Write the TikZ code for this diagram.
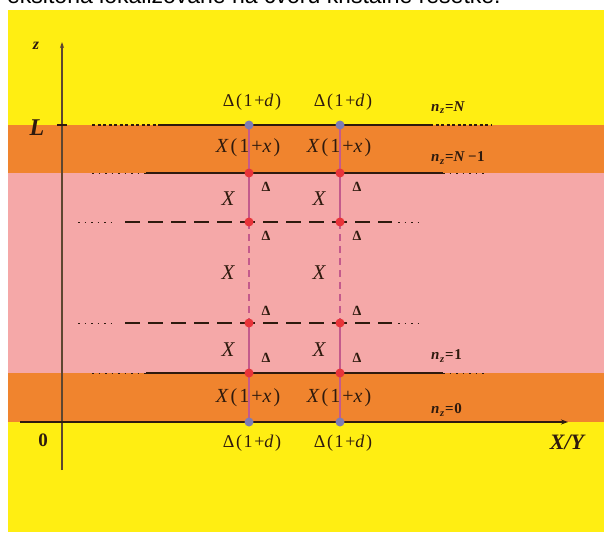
\documentclass[tikz,border=0pt]{standalone}
\usepackage{fontspec}
\setmainfont{Liberation Serif}
\newfontfamily\titlefont{Liberation Sans}
\usetikzlibrary{arrows.meta}
\definecolor{bgyellow}{HTML}{FFEE12}
\definecolor{bandorange}{HTML}{F0842E}
\definecolor{bandpink}{HTML}{F5A8A8}
\definecolor{ink}{HTML}{2E1A0E}
\definecolor{vline}{HTML}{C45A8C}
\definecolor{dotred}{HTML}{E8343A}
\definecolor{dotblue}{HTML}{7E7CB4}
\definecolor{zaxis}{HTML}{5E4630}
\tikzset{
  solidlayer/.style={ink, line width=1.8},
  densedot/.style={ink, line width=2, dash pattern=on 3pt off 2.5pt},
  finedot/.style={ink, line width=1, dash pattern=on 1.5pt off 5pt},
  dashseg/.style={ink, line width=2.2, dash pattern=on 15pt off 8pt},
  vsolid/.style={vline, line width=1.6},
  vdash/.style={vline, line width=1.6, dash pattern=on 7pt off 5pt},
  reddot/.style={circle, fill=dotred, inner sep=0pt, minimum size=9pt},
  bluedot/.style={circle, fill=dotblue, inner sep=0pt, minimum size=9pt},
  dlab/.style={text=ink, font=\fontsize{18}{18}\selectfont\addfontfeatures{LetterSpace=9}, inner sep=0pt},
  xlab/.style={text=ink, font=\fontsize{20}{20}\selectfont\addfontfeatures{LetterSpace=10}, inner sep=0pt},
  smalld/.style={text=ink, font=\bfseries\fontsize{14}{14}\selectfont, inner sep=0pt},
  bigx/.style={text=ink, font=\itshape\fontsize{21}{21}\selectfont, inner sep=0pt},
  nlab/.style={text=ink, font=\bfseries\fontsize{15}{15}\selectfont\addfontfeatures{LetterSpace=4}, inner sep=0pt},
}
\begin{document}
\begin{tikzpicture}[x=1pt,y=-1pt]
\useasboundingbox (0,0) rectangle (604,532);
\fill[white] (0,0) rectangle (604,532);
\fill[bgyellow] (8,10) rectangle (604,532);
\fill[bandorange] (8,125) rectangle (604,173);
\fill[bandpink] (8,173) rectangle (604,373);
\fill[bandorange] (8,373) rectangle (604,422);
% clipped title
\begin{scope}
\clip (0,0) rectangle (604,10);
\node[anchor=base west, font=\titlefont\fontsize{23}{24}\selectfont, inner sep=0pt] (title) at (7,4) {eksitona lokalizovane na čvoru kristalne rešetke.};
\end{scope}
% axes
\coordinate (zbot) at (62,470);
\coordinate (ztop) at (62,42);
\draw[zaxis, line width=1.6, -{Stealth[length=6pt,width=4pt]}] (zbot) -- (ztop);
\node[text=ink, font=\itshape\bfseries\fontsize{16}{16}\selectfont] (zlab) at (36,46) {z};
\node[text=ink, font=\itshape\bfseries\fontsize{24}{24}\selectfont] (Llab) at (37,128) {L};
\coordinate (tickl) at (57,125);
\coordinate (tickr) at (67,125);
\draw[ink, line width=1.2] (tickl) -- (tickr);
\node[text=ink, font=\bfseries\fontsize{19}{19}\selectfont] (zero) at (43,440) {0};
\coordinate (xl) at (20,422);
\coordinate (xr) at (568,422);
\draw[ink, line width=1.4, -{Stealth[length=7pt,width=5pt]}] (xl) -- (xr);
\node[text=ink, font=\itshape\bfseries\fontsize{22}{22}\selectfont] (xylab) at (567,442) {X/Y};
% layer lines
\coordinate (nA1) at (92,125); \coordinate (nA2) at (160,125); \coordinate (nA3) at (430,125); \coordinate (nA4) at (492,125);
\draw[densedot] (nA1) -- (nA2); \draw[solidlayer] (nA2) -- (nA3); \draw[densedot] (nA3) -- (nA4);
\coordinate (nB1) at (92,173); \coordinate (nB2) at (146,173); \coordinate (nB3) at (443,173); \coordinate (nB4) at (486,173);
\draw[finedot] (nB1) -- (nB2); \draw[solidlayer] (nB2) -- (nB3); \draw[finedot] (nB3) -- (nB4);
\coordinate (nC1) at (78,222); \coordinate (nC2) at (116,222); \coordinate (nC3) at (125,222); \coordinate (nC4) at (392,222); \coordinate (nC5) at (398,222); \coordinate (nC6) at (424,222);
\draw[finedot] (nC1) -- (nC2); \draw[dashseg] (nC3) -- (nC4); \draw[finedot] (nC5) -- (nC6);
\coordinate (nD1) at (78,323); \coordinate (nD2) at (116,323); \coordinate (nD3) at (125,323); \coordinate (nD4) at (392,323); \coordinate (nD5) at (398,323); \coordinate (nD6) at (424,323);
\draw[finedot] (nD1) -- (nD2); \draw[dashseg] (nD3) -- (nD4); \draw[finedot] (nD5) -- (nD6);
\coordinate (nE1) at (92,373); \coordinate (nE2) at (146,373); \coordinate (nE3) at (443,373); \coordinate (nE4) at (486,373);
\draw[finedot] (nE1) -- (nE2); \draw[solidlayer] (nE2) -- (nE3); \draw[finedot] (nE3) -- (nE4);
\coordinate (nF1) at (92,422); \coordinate (nF2) at (140,422); \coordinate (nF3) at (430,422); \coordinate (nF4) at (492,422);
\draw[densedot] (nF1) -- (nF2); \draw[densedot] (nF3) -- (nF4);
% vertical chains
\foreach \n/\x in {1/249,2/340}{
  \coordinate (t\n) at (\x,125);
  \coordinate (a\n) at (\x,173);
  \coordinate (b\n) at (\x,222);
  \coordinate (c\n) at (\x,323);
  \coordinate (d\n) at (\x,373);
  \coordinate (e\n) at (\x,422);
  \draw[vsolid] (t\n) -- (a\n) -- (b\n);
  \draw[vdash] (b\n) -- (c\n);
  \draw[vsolid] (c\n) -- (d\n) -- (e\n);
  \node[bluedot] (T\n) at (t\n) {};
  \node[reddot] (A\n) at (a\n) {};
  \node[reddot] (B\n) at (b\n) {};
  \node[reddot] (C\n) at (c\n) {};
  \node[reddot] (D\n) at (d\n) {};
  \node[bluedot] (E\n) at (e\n) {};
  \node[dlab] (up\n) at (\x+3,102) {Δ(1+\textit{d})};
  \node[dlab] (dn\n) at (\x+3,443) {Δ(1+\textit{d})};
  \node[xlab] (xu\n) at (\x-1,148) {\textit{X}(1+\textit{x})};
  \node[xlab] (xd\n) at (\x-1,398) {\textit{X}(1+\textit{x})};
  \node[smalld] (da\n) at (\x+17,187) {Δ};
  \node[smalld] (db\n) at (\x+17,236) {Δ};
  \node[smalld] (dc\n) at (\x+17,311) {Δ};
  \node[smalld] (dd\n) at (\x+17,358) {Δ};
  \node[bigx] (x1\n) at (\x-21,199) {X};
  \node[bigx] (x2\n) at (\x-21,273) {X};
  \node[bigx] (x3\n) at (\x-21,350) {X};
}
\node[nlab, anchor=west] (nzN) at (431,108) {\textit{n}\textsubscript{\textit{z}}=\textit{N}};
\node[nlab, anchor=west] (nzN1) at (431,158) {\textit{n}\textsubscript{\textit{z}}=\textit{N}\,−1};
\node[nlab, anchor=west] (nz1) at (431,356) {\textit{n}\textsubscript{\textit{z}}=1};
\node[nlab, anchor=west] (nz0) at (431,410) {\textit{n}\textsubscript{\textit{z}}=0};
\end{tikzpicture}
\end{document}
